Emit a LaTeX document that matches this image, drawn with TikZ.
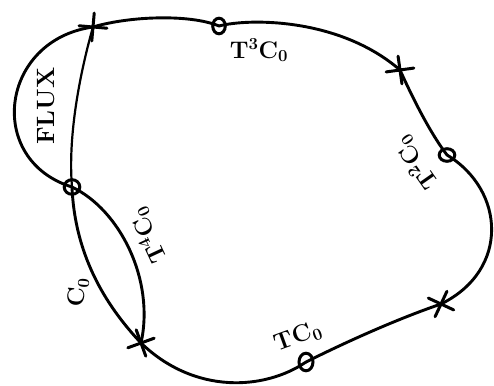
\documentclass[tikz,border=0pt]{standalone}
\usepackage{fontspec}
\begin{document}
\begin{tikzpicture}[x=1pt,y=-1pt,
  curve/.style={line width=2.9pt,line cap=round},
  thin curve/.style={line width=2.2pt,line cap=round},
  omark/.style={line width=3pt},
  lbl/.style={inner sep=0pt,font=\fontsize{24}{24}\selectfont\bfseries},
  crossmark/.pic={\draw[line width=3pt,line cap=round] (-14,0)--(14,0) (0,-14)--(0,14);}]
\useasboundingbox (0,0) rectangle (494,385);
% marker positions
\coordinate (xA) at (93,27);
\coordinate (oT) at (219,26);
\coordinate (xB) at (400,70);
\coordinate (oR) at (447,155);
\coordinate (xC) at (441,304);
\coordinate (oB) at (306,362);
\coordinate (xD) at (141,343);
\coordinate (oL) at (72,187);
% outer loop
\draw[curve] (xA) .. controls (130,16) and (190,14) .. (oT);
\draw[curve] (oT) .. controls (250,18) and (340,18) .. (xB);
\draw[curve] (xB) .. controls (410,92) and (428,130) .. (oR);
\draw[curve] (oR) .. controls (505,190) and (510,270) .. (xC);
\draw[curve] (xC) .. controls (400,318) and (350,340) .. (oB);
\draw[curve] (oB) .. controls (265,390) and (195,395) .. (xD);
% left part
\draw[thin curve] (xA) .. controls (78,80) and (68,140) .. (oL);
\draw[curve] (xA) .. controls (0,40) and (-15,160) .. (oL);
\draw[curve] (oL) .. controls (75,260) and (110,310) .. (xD);
\draw[curve] (oL) .. controls (120,210) and (155,280) .. (xD);
% O markers
\draw[omark] (oT) ellipse [x radius=6.3, y radius=7.8];
\draw[omark] (oR) ellipse [x radius=7.8, y radius=6.3];
\draw[omark] (oB) ellipse [x radius=7, y radius=8.8];
\draw[omark] (oL) ellipse [x radius=7.8, y radius=7.3];
% X markers
\pic[rotate=-5] at (xA) {crossmark};
\pic[rotate=8] at (xB) {crossmark};
\pic[rotate=-25] at (xC) {crossmark};
\pic[rotate=20] at (xD) {crossmark};
% labels
\node[lbl,rotate=90,font=\fontsize{25}{25}\selectfont\bfseries] (flux) at (46,106) {FLUX};
\node[lbl] (t3) at (259,50) {T\textsuperscript{3}C\textsubscript{0}};
\node[lbl,rotate=125] (t2) at (416,163) {T\textsuperscript{2}C\textsubscript{0}};
\node[lbl,rotate=115] (t4) at (148,236) {T\textsuperscript{4}C\textsubscript{0}};
\node[lbl,rotate=20] (t1) at (298,337) {TC\textsubscript{0}};
\node[lbl,rotate=85] (c0) at (78,292) {C\textsubscript{0}};
\end{tikzpicture}
\end{document}
